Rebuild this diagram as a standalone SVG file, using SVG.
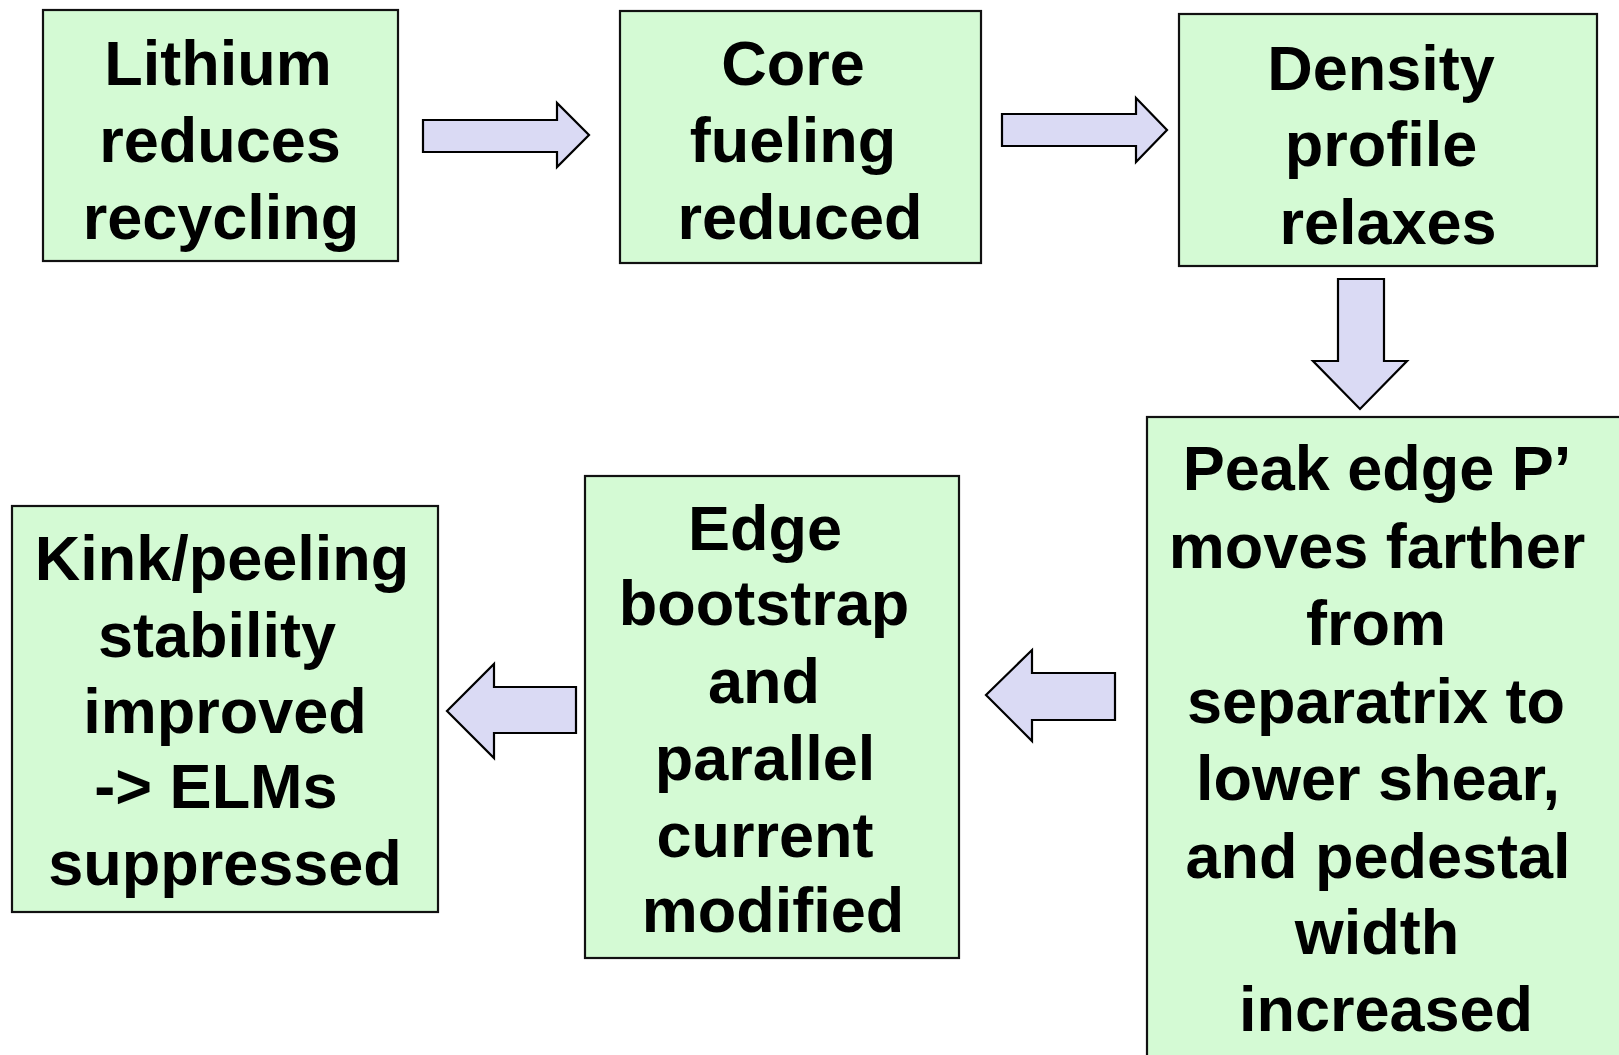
<svg xmlns="http://www.w3.org/2000/svg" width="1619" height="1055" viewBox="0 0 1619 1055">
<style>
.box{fill:#d4fad4;stroke:#111;stroke-width:2.2}
.arr{fill:#dadaf4;stroke:#000;stroke-width:2.2;stroke-linejoin:miter}
text{font-family:"Liberation Sans",Arial,Helvetica,sans-serif;font-weight:bold;font-size:63px;fill:#000;text-anchor:middle}
</style>
<rect width="1619" height="1055" fill="#fff"/>
<g id="connectors">
<polygon class="arr" points="423,120 557,120 557,103 589,135 557,167 557,152 423,152"/>
<polygon class="arr" points="1002,114 1136,114 1136,98 1167,130 1136,162 1136,146 1002,146"/>
<polygon class="arr" points="1338,279 1384,279 1384,361 1407,361 1360,409 1313,361 1338,361"/>
<polygon class="arr" points="1115,673 1032,673 1032,650 986,695 1032,741 1032,720 1115,720"/>
<polygon class="arr" points="576,687 494,687 494,664 447,711 494,758 494,733 576,733"/>
</g>
<g id="n1">
<rect class="box" x="43" y="10" width="355" height="251"/>
<text x="218" y="85">Lithium</text>
<text x="220" y="162">reduces</text>
<text x="221" y="239">recycling</text>
</g>
<g id="n2">
<rect class="box" x="620" y="11" width="361" height="252"/>
<text x="793" y="85">Core</text>
<text x="793" y="162">fueling</text>
<text x="800" y="239">reduced</text>
</g>
<g id="n3">
<rect class="box" x="1179" y="14" width="418" height="252"/>
<text x="1381" y="90">Density</text>
<text x="1381" y="166">profile</text>
<text x="1388" y="244">relaxes</text>
</g>
<g id="n4">
<rect class="box" x="1147" y="417" width="490" height="660"/>
<text x="1377" y="490">Peak edge P’</text>
<text x="1377" y="568">moves farther</text>
<text x="1376" y="645">from</text>
<text x="1376" y="723">separatrix to</text>
<text x="1378" y="800">lower shear,</text>
<text x="1378" y="878">and pedestal</text>
<text x="1377" y="954">width</text>
<text x="1386" y="1031">increased</text>
</g>
<g id="n5">
<rect class="box" x="585" y="476" width="374" height="482"/>
<text x="765" y="550">Edge</text>
<text x="764" y="625">bootstrap</text>
<text x="764" y="703">and</text>
<text x="765" y="780">parallel</text>
<text x="765" y="857">current</text>
<text x="773" y="932">modified</text>
</g>
<g id="n6">
<rect class="box" x="12" y="506" width="426" height="406"/>
<text x="222" y="580">Kink/peeling</text>
<text x="217" y="657">stability</text>
<text x="225" y="733">improved</text>
<text x="216" y="808">-&gt; ELMs</text>
<text x="225" y="885">suppressed</text>
</g>
</svg>
